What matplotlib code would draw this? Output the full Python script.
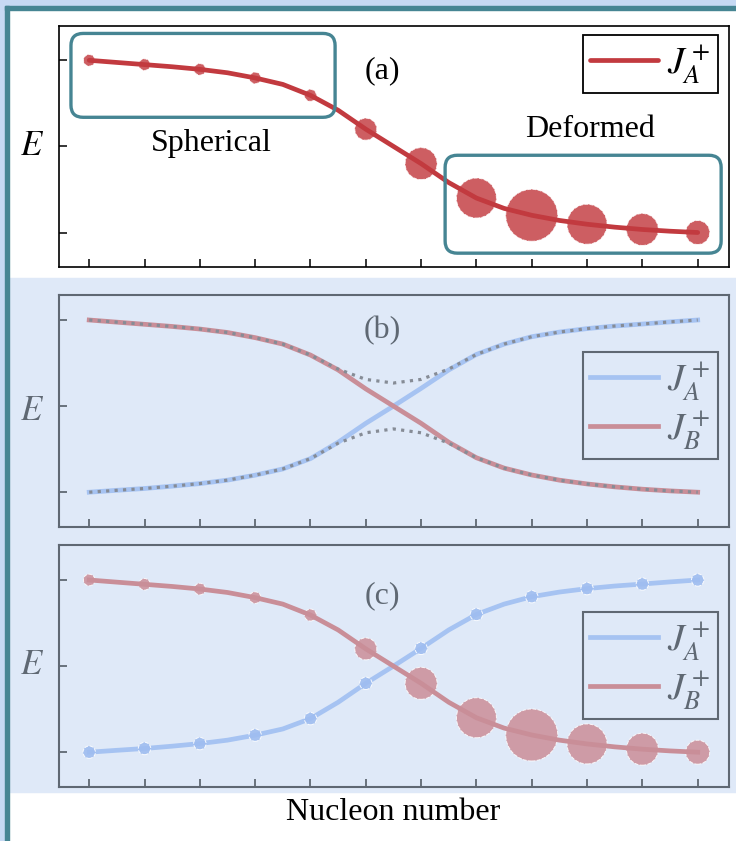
import matplotlib
matplotlib.use("Agg")
import matplotlib.pyplot as plt
from matplotlib.patches import Rectangle, FancyBboxPatch
import numpy as np

plt.rcParams["font.family"] = ["Liberation Serif", "DejaVu Serif"]
plt.rcParams["mathtext.fontset"] = "stix"

# nucleon index at half steps (markers sit on the whole ones)
x_fine = np.arange(23) / 2
x_pts = np.arange(12)

# falling branch (J_A^+ in panel a, J_B^+ in panels b/c)
falling = [2.0, 1.975, 1.95, 1.925, 1.895, 1.855, 1.795, 1.72, 1.593, 1.42, 1.20, 1.0,
           0.80, 0.58, 0.40, 0.28, 0.20, 0.14, 0.096, 0.062, 0.035, 0.015, 0.0]
# rising branch (J_A^+ in panels b/c)
rising = [0.0, 0.022, 0.043, 0.07, 0.10, 0.14, 0.198, 0.27, 0.39, 0.58, 0.80, 1.0,
          1.206, 1.42, 1.60, 1.72, 1.806, 1.86, 1.90, 1.93, 1.953, 1.978, 2.0]
# mixed (avoided crossing) branches, panel b
upper_mixed = [2.0, 1.975, 1.95, 1.925, 1.895, 1.855, 1.795, 1.72, 1.593, 1.43, 1.31, 1.268,
               1.31, 1.43, 1.60, 1.72, 1.806, 1.86, 1.90, 1.93, 1.953, 1.978, 2.0]
lower_mixed = [0.0, 0.022, 0.043, 0.07, 0.10, 0.14, 0.198, 0.27, 0.39, 0.57, 0.69, 0.735,
               0.69, 0.57, 0.40, 0.28, 0.20, 0.14, 0.096, 0.062, 0.035, 0.015, 0.0]
# deformation weight shown as bubble radius (px)
bubble_r = [5.8, 5.8, 5.8, 5.8, 6, 11, 16, 20, 26, 20, 16, 12]
small_r = [6.2] * 12

RED = "#c23a3f"
RED_L = "#c98e98"
BLUE_L = "#a6c3f2"
GRAY = "#5f6873"
TEAL = "#468593"
PANEL_BG = "#dfe9f8"

W, H = 736, 841
fig = plt.figure(figsize=(W / 100, H / 100), dpi=100, facecolor="white")


def fx(px):
    return px / W


def fy(py):
    return 1 - py / H


def s_of(r):
    return (np.asarray(r) * 1.44) ** 2


# frame decorations
for xy, w, h, c in [((fx(9), fy(792)), 1, (792 - 278) / H, PANEL_BG),
                    ((0, fy(6)), 1, 6 / H, "#c6d9f3"),
                    ((0, 0), 5 / W, 1, "#c6d9f3"),
                    ((fx(5), fy(10)), 1, 4 / H, TEAL),
                    ((fx(5), 0), 4 / W, fy(6), TEAL)]:
    fig.patches.append(Rectangle(xy, w, h, transform=fig.transFigure, color=c, zorder=-5))

left, width = fx(58.7), (728.6 - 58.7) / W
ax_a = fig.add_axes([left, fy(267.3), width, (267.3 - 26) / H])
ax_b = fig.add_axes([left, fy(527), width, (527 - 295) / H])
ax_c = fig.add_axes([left, fy(787), width, (787 - 545) / H])

step = 55.3
for ax, top_px, bot_px, t0 in [(ax_a, 26, 267.3, 60.3), (ax_b, 295, 527, 320), (ax_c, 545, 787, 580)]:
    ax.set_zorder(2)
    ax.set_xlim(-(89.2 - 58.7) / step, 11 + (728.6 - 697.7) / step)
    ax.set_ylim(2 - (bot_px - t0) / 86.1, 2 + (t0 - top_px) / 86.1)
    ax.set_xticks(x_pts)
    ax.set_yticks([0, 1, 2])
    ax.set_xticklabels([])
    ax.set_yticklabels([])

# panel (a)
ax_a.set_facecolor("white")
ax_a.tick_params(direction="in", length=6, width=1.1, color="black", top=False, right=False)
for sp in ax_a.spines.values():
    sp.set_linewidth(1.2)
    sp.set_color("black")
ax_a.scatter(x_pts, falling[::2], s=s_of(bubble_r), facecolor=RED, alpha=0.82,
             edgecolor=(1, 1, 1, 0.6), linewidths=0.7, linestyles="--", zorder=3)
ax_a.plot(x_fine, falling, color=RED, lw=3.4, solid_capstyle="round", zorder=4, label=r"$J_A^+$")
asp = (1 / 86.1) / (1 / step)
ax_a.add_patch(FancyBboxPatch((-0.33, 1.338), 4.775, 0.974, boxstyle="round,pad=0,rounding_size=0.22",
                              mutation_aspect=asp, fc="none", ec=TEAL, lw=2.4, zorder=5))
ax_a.add_patch(FancyBboxPatch((6.434, -0.24), 4.99, 1.137, boxstyle="round,pad=0,rounding_size=0.22",
                              mutation_aspect=asp, fc="none", ec=TEAL, lw=2.4, zorder=5))
ax_a.text(2.2, 1.03, "Spherical", fontsize=23, ha="center", va="center")
ax_a.text(9.05, 1.2, "Deformed", fontsize=23, ha="center", va="center")
ax_a.text(5.3, 1.88, "(a)", fontsize=23, ha="center", va="center")
leg = ax_a.legend(loc="upper right", bbox_to_anchor=(0.984, 0.963), borderaxespad=0, fontsize=27,
                  handlelength=1.8, handletextpad=0.25, borderpad=0.2, fancybox=False, framealpha=1,
                  edgecolor="black")
leg.get_frame().set_linewidth(1.3)

# panels (b) and (c)
for ax in (ax_b, ax_c):
    ax.set_facecolor(PANEL_BG)
    ax.tick_params(direction="in", length=6, width=1.3, color=GRAY, top=False, right=False)
    for sp in ax.spines.values():
        sp.set_linewidth(1.5)
        sp.set_color(GRAY)

ax_b.plot(x_fine, rising, color=BLUE_L, lw=3.4, label=r"$J_A^+$", zorder=3)
ax_b.plot(x_fine, falling, color=RED_L, lw=3.4, label=r"$J_B^+$", zorder=3)
ax_b.plot(x_fine, upper_mixed, color="#868c96", lw=2.3, ls=":", zorder=4)
ax_b.plot(x_fine, lower_mixed, color="#868c96", lw=2.3, ls=":", zorder=4)
ax_b.text(5.3, 1.88, "(b)", fontsize=23, ha="center", va="center", color=GRAY)

ax_c.plot(x_fine, rising, color=BLUE_L, lw=3.4, label=r"$J_A^+$", zorder=3)
ax_c.plot(x_fine, falling, color=RED_L, lw=3.4, label=r"$J_B^+$", zorder=4)
ax_c.scatter(x_pts, rising[::2], s=s_of(small_r), facecolor="#9fbdf0", alpha=0.9,
             edgecolor=(1, 1, 1, 0.5), linewidths=0.7, linestyles="--", zorder=3)
ax_c.scatter(x_pts, falling[::2], s=s_of(bubble_r), facecolor="#cc8e98", alpha=0.85,
             edgecolor=(1, 1, 1, 0.5), linewidths=0.7, linestyles="--", zorder=3)
ax_c.text(5.3, 1.82, "(c)", fontsize=23, ha="center", va="center", color=GRAY)

for ax, ytop in [(ax_b, 0.754), (ax_c, 0.723)]:
    lg = ax.legend(loc="upper right", bbox_to_anchor=(0.984, ytop), borderaxespad=0, fontsize=27,
                   handlelength=1.8, handletextpad=0.25, borderpad=0.2, labelspacing=0.15,
                   fancybox=False, framealpha=1, facecolor=PANEL_BG, edgecolor=GRAY, labelcolor=GRAY)
    lg.get_frame().set_linewidth(1.5)

for ax, col in [(ax_a, "black"), (ax_b, GRAY), (ax_c, GRAY)]:
    ax.set_ylabel("$E$", rotation=0, fontsize=25, color=col, va="center", ha="center")
    ax.yaxis.set_label_coords(-0.04, 0.5)

fig.text(fx(393), fy(812), "Nucleon number", fontsize=23, ha="center", va="center")

fig.savefig("out.png", dpi=100)
